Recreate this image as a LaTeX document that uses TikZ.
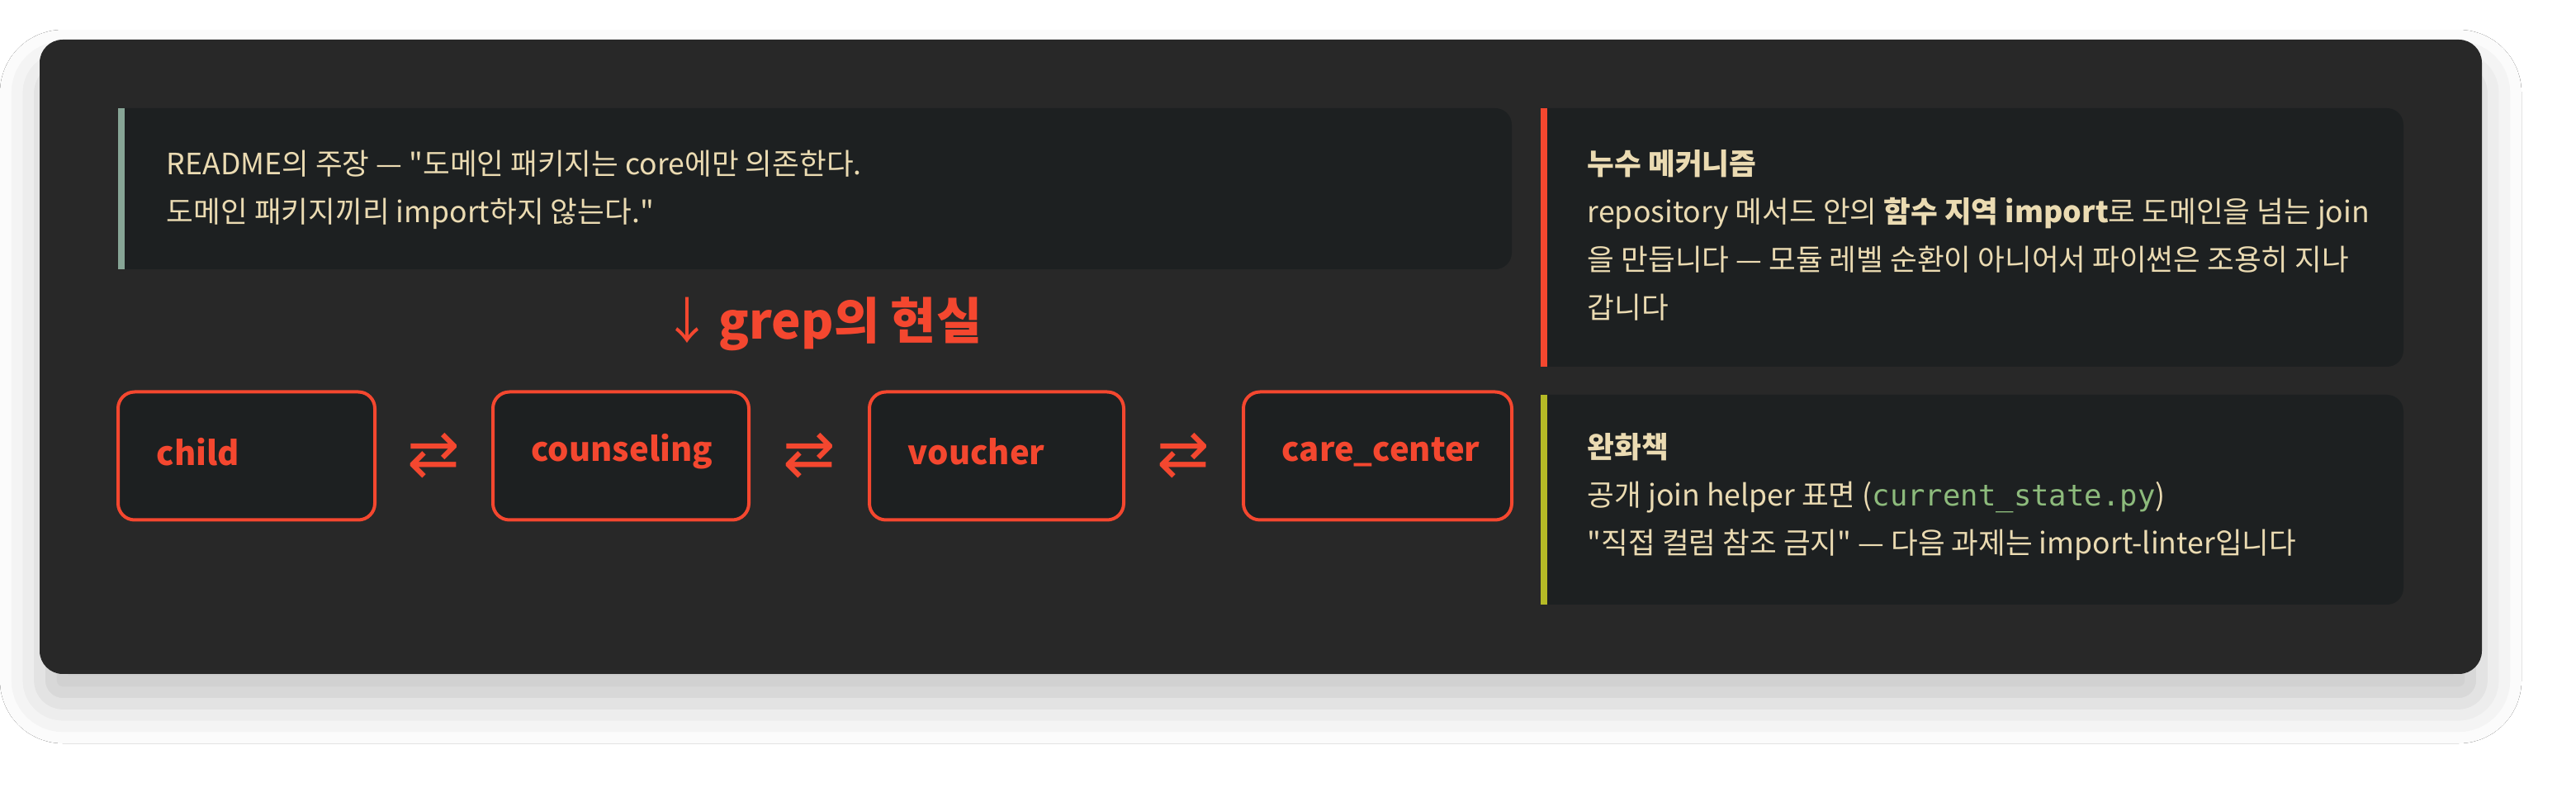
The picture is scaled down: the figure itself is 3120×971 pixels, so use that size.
\documentclass[tikz,border=0pt]{standalone}
\usepackage{fontspec}
\setmainfont{Noto Sans CJK KR}
\newfontfamily\dejavu{DejaVu Sans}
\newfontfamily\monof{DejaVu Sans Mono}
\usetikzlibrary{shadows.blur}
\definecolor{pagebg}{HTML}{FFFFFF}
\definecolor{panel}{HTML}{282828}
\definecolor{card}{HTML}{1D2021}
\definecolor{cream}{HTML}{EBDBB2}
\definecolor{hot}{HTML}{F4472F}
\definecolor{sage}{HTML}{87A596}
\definecolor{lime}{HTML}{B5BA26}
\definecolor{codegreen}{HTML}{8DBB7C}
\newcommand{\dq}{\textquotedbl}
\begin{document}
\begin{tikzpicture}[x=0.25pt,y=-0.25pt,
  body/.style={anchor=base west,inner sep=0pt,text=cream,font=\fontsize{8.9}{12}\selectfont},
  mod/.style={draw=hot,line width=1pt,fill=card,rounded corners=5pt,minimum width=#1*0.25pt,minimum height=155*0.25pt,inner sep=0pt},
  modlabel/.style={anchor=west,inner sep=0pt,text=hot,font=\fontsize{10}{12}\selectfont\bfseries},
  swap/.style={inner sep=0pt,text=hot,font=\dejavu\fontsize{19}{20}\selectfont}]
\useasboundingbox (0,0) rectangle (3120,971);
\fill[pagebg] (0,0) rectangle (3120,971);
\fill[panel,blur shadow={shadow xshift=0pt,shadow yshift=-9pt,shadow blur radius=12pt,shadow opacity=22}] [rounded corners=7pt] (48,48) rectangle (3006,816);
% cards
\fill[card] (143,131) [rounded corners=5pt] -- (1831,131) -- (1831,326) [sharp corners] -- (143,326) -- cycle;
\fill[sage] (143,131) rectangle (151,326);
\fill[card] (1866,131) [rounded corners=5pt] -- (2911,131) -- (2911,444) [sharp corners] -- (1866,444) -- cycle;
\fill[hot] (1866,131) rectangle (1874,444);
\fill[card] (1866,478) [rounded corners=5pt] -- (2911,478) -- (2911,732) [sharp corners] -- (1866,732) -- cycle;
\fill[lime] (1866,478) rectangle (1874,732);
% claim
\node[body] (c1) at (201,212) {README의 주장 — \dq 도메인 패키지는 core에만 의존한다.};
\node[body] (c2) at (201,270) {도메인 패키지끼리 import하지 않는다.\dq};
% title
\node[text=hot,inner sep=0pt,font=\fontsize{15}{18}\selectfont\bfseries] (title) at (996,392) {{\mdseries ↓}\hspace{2pt}grep의 현실};
% modules
\node[mod=311] (child) at (298.5,552) {};
\node[mod=310] (couns) at (752,552) {};
\node[mod=308] (vouch) at (1207,552) {};
\node[mod=325] (care) at (1668.5,552) {};
\node[modlabel] at ([xshift=48*0.25pt,yshift=5*0.25pt]child.west) {child};
\node[modlabel] at ([xshift=48*0.25pt,yshift=5*0.25pt]couns.west) {counseling};
\node[modlabel] at ([xshift=48*0.25pt,yshift=5*0.25pt]vouch.west) {voucher};
\node[modlabel] at ([xshift=48*0.25pt,yshift=5*0.25pt]care.west) {care\_center};
\node[swap] (s1) at ($(child.east)!0.5!(couns.west)$) {⇄};
\node[swap] (s2) at ($(couns.east)!0.5!(vouch.west)$) {⇄};
\node[swap] (s3) at ($(vouch.east)!0.5!(care.west)$) {⇄};
% leak
\node[body,font=\fontsize{8.9}{12}\selectfont\bfseries] (l0) at (1922,212) {누수 메커니즘};
\node[body] (l1) at (1922,270) {repository 메서드 안의 \textbf{함수 지역 import}로 도메인을 넘는 join};
\node[body] (l2) at (1922,328) {을 만듭니다 — 모듈 레벨 순환이 아니어서 파이썬은 조용히 지나};
\node[body] (l3) at (1922,386) {갑니다};
% mitigation
\node[body,font=\fontsize{8.9}{12}\selectfont\bfseries] (m0) at (1922,555) {완화책};
\node[body] (m1) at (1922,613) {공개 join helper 표면 ({\monof\color{codegreen}current\_state.py})};
\node[body] (m2) at (1922,671) {\dq 직접 컬럼 참조 금지\dq{} — 다음 과제는 import-linter입니다};
\end{tikzpicture}
\end{document}
